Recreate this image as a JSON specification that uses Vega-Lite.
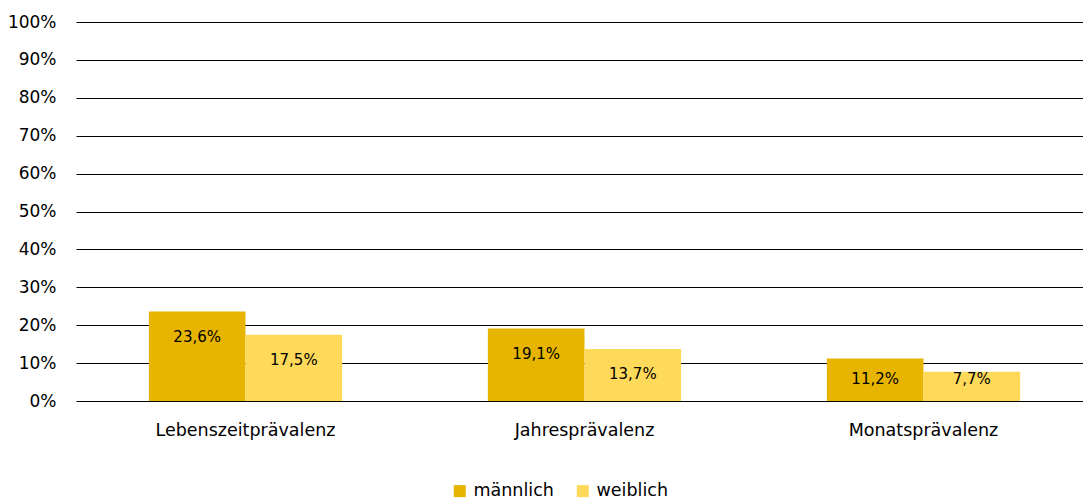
{
  "$schema": "https://vega.github.io/schema/vega-lite/v6.json",
  "width": 1017,
  "height": 379,
  "padding": {"left": 7, "top": 13, "right": 0, "bottom": 5},
  "background": "white",
  "config": {
    "locale": {"number": {"decimal": ",", "thousands": ".", "grouping": [3], "currency": ["", " €"]}},
    "font": "DejaVu Sans",
    "view": {"stroke": null},
    "axisY": {"title": null, "format": ".0%", "values": [0,0.1,0.2,0.3,0.4,0.5,0.6,0.7,0.8,0.9,1], "labelOverlap": false, "labelFontSize": 17, "labelColor": "#000", "labelPadding": 20, "ticks": false, "domain": false, "gridColor": "#000", "gridOpacity": 1, "gridWidth": 1}
  },
  "data": {
    "values": [
      {"kategorie": "Lebenszeitprävalenz", "geschlecht": "männlich", "wert": 0.236},
      {"kategorie": "Lebenszeitprävalenz", "geschlecht": "weiblich", "wert": 0.175},
      {"kategorie": "Jahresprävalenz", "geschlecht": "männlich", "wert": 0.191},
      {"kategorie": "Jahresprävalenz", "geschlecht": "weiblich", "wert": 0.137},
      {"kategorie": "Monatsprävalenz", "geschlecht": "männlich", "wert": 0.112},
      {"kategorie": "Monatsprävalenz", "geschlecht": "weiblich", "wert": 0.077}
    ]
  },
  "transform": [
    {"calculate": "max(datum.wert - 0.066, 0.058)", "as": "labelPos"}
  ],
  "encoding": {
    "x": {
      "field": "kategorie",
      "type": "nominal",
      "sort": null,
      "scale": {"paddingInner": 0.43, "paddingOuter": 0.215},
      "axis": {"title": null, "labelAngle": 0, "labelFontSize": 17.5, "labelColor": "#000", "labelPadding": 20, "ticks": false, "domain": false}
    },
    "xOffset": {"field": "geschlecht", "type": "nominal", "scale": {"paddingInner": 0}}
  },
  "layer": [
    {
      "mark": {"type": "bar"},
      "encoding": {
        "y": {
          "field": "wert",
          "type": "quantitative",
          "scale": {"domain": [0, 1]},
          "axis": {"title": null, "values": [0,0.1,0.2,0.3,0.4,0.5,0.6,0.7,0.8,0.9,1], "labelOverlap": false}
        },
        "color": {
          "field": "geschlecht",
          "type": "nominal",
          "scale": {"domain": ["männlich", "weiblich"], "range": ["#E7B500", "#FFD95A"]},
          "legend": {"title": null, "orient": "none", "legendX": 375, "legendY": 460, "direction": "horizontal", "symbolType": "square", "symbolSize": 144, "symbolStrokeWidth": 0, "symbolOpacity": 1, "labelFontSize": 17.5, "labelColor": "#000", "columnPadding": 20, "labelOffset": 5}
        }
      }
    },
    {
      "mark": {"type": "text", "fontSize": 15, "color": "#000", "baseline": "middle"},
      "encoding": {
        "y": {"field": "labelPos", "type": "quantitative", "axis": {"title": null, "values": [0,0.1,0.2,0.3,0.4,0.5,0.6,0.7,0.8,0.9,1], "labelOverlap": false}},
        "text": {"field": "wert", "type": "quantitative", "format": ".1%"}
      }
    }
  ]
}
